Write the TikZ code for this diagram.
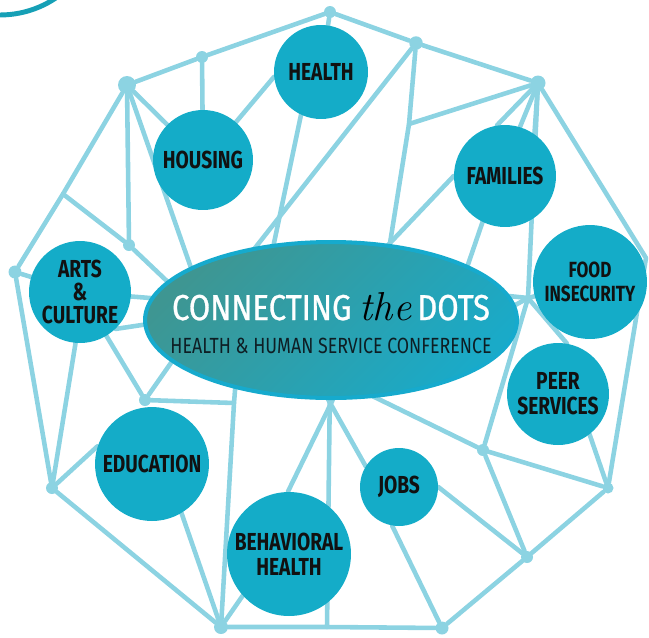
\documentclass[tikz,border=0pt]{standalone}
\usepackage{fontspec}
\newfontfamily\narrowfont[FakeStretch=0.78]{Fira Sans}
\newfontfamily\titlefont[FakeStretch=0.86, FakeBold=0.8]{Fira Sans}
\newfontfamily\subfont[FakeStretch=0.81]{Fira Sans}
\usetikzlibrary{shapes.geometric,backgrounds}
\definecolor{dotblue}{RGB}{20,172,200}
\definecolor{linkblue}{RGB}{140,211,226}
\definecolor{ovalteal}{RGB}{62,150,146}
\definecolor{ovalblue}{RGB}{26,170,200}
\definecolor{ovalrim}{RGB}{22,170,205}
\definecolor{inkblack}{RGB}{17,17,17}
\definecolor{subink}{RGB}{14,30,36}
\definecolor{arcteal}{RGB}{22,160,182}
\tikzset{
  link/.style={draw=linkblue, line width=2.6pt, line cap=round, line join=round},
  topic/.style={circle, fill=dotblue, inner sep=0pt, minimum size=#1, align=center,
    text=inkblack, font=\narrowfont\bfseries\fontsize{14}{14.2}\selectfont},
  joint/.style={circle, fill=linkblue, inner sep=0pt, minimum size=#1},
  oval/.style={ellipse, minimum width=7.44cm, minimum height=3.12cm, draw=ovalrim,
    line width=2.3pt, top color=ovalteal, bottom color=ovalblue, shading angle=45},
}

\begin{document}
\begin{tikzpicture}[x=0.02cm, y=-0.02cm]
\useasboundingbox (0,0) rectangle (649,637);

% corner arc
\begin{scope}
  \clip (0,0) rectangle (649,637);
  \draw[arcteal, line width=2.8pt] (0,-85) circle[radius=2cm];
\end{scope}

% conference oval
\node[oval] (oval) at (331,320) {};
\node[anchor=base, text=white, font=\titlefont\fontsize{20.5}{20.5}\selectfont] (title) at (331,320)
  {CONNECTING {\rmfamily\itshape\color{black}\fontsize{23}{23}\selectfont the}\,DOTS};
\node[anchor=base, text=subink, font=\subfont\fontsize{12.5}{12.5}\selectfont] (subtitle) at (331,353)
  {HEALTH \& HUMAN SERVICE CONFERENCE};

% topics
\node[topic=1.88cm] (health) at (321,72) {HEALTH};
\node[topic=2.0cm] (housing) at (203,160) {HOUSING};
\node[topic=2.04cm] (families) at (505,176) {FAMILIES};
\node[topic=2.28cm, font=\narrowfont\bfseries\fontsize{12.5}{13.6}\selectfont] (food) at (590,282) {FOOD\\INSECURITY};
\node[topic=2.04cm] (peer) at (558,394) {PEER\\SERVICES};
\node[topic=1.56cm] (jobs) at (399,487) {JOBS};
\node[topic=2.48cm] (bh) at (289,554) {BEHAVIORAL\\HEALTH};
\node[topic=2.28cm] (edu) at (152,464) {EDUCATION};
\node[topic=2.04cm, font=\narrowfont\bfseries\fontsize{14}{13.3}\selectfont] (arts) at (80,292) {ARTS\\\&\\CULTURE};

% dots
\node[joint=0.36cm] (A) at (127,85) {};
\node[joint=0.24cm] (B) at (202,57) {};
\node[joint=0.24cm] (C) at (330,12) {};
\node[joint=0.27cm] (D) at (416,43) {};
\node[joint=0.3cm] (E) at (538,83) {};
\node[joint=0.22cm] (G) at (608,488) {};
\node[joint=0.24cm] (H) at (527,557) {};
\node[joint=0.26cm] (I) at (442,628) {};
\node[joint=0.28cm] (J) at (221,627) {};
\node[joint=0.24cm] (K) at (52,488) {};
\node[joint=0.26cm] (L) at (15,272) {};
\node[joint=0.24cm] (M) at (129,245) {};
\node[joint=0.24cm] (O) at (483,450) {};
\node[joint=0.24cm] (P) at (145,400) {};

% bends
\coordinate (F) at (646,258);
\coordinate (N) at (63,194);
\coordinate (Q) at (528,298);
\coordinate (S) at (234,403);
\coordinate (T) at (409,124);
\coordinate (W) at (327,627);

% ends hidden under the oval
\coordinate (oA) at (197,285);
\coordinate (oM) at (190,303);
\coordinate (oH) at (270,262);
\coordinate (oD) at (244,262);
\coordinate (oT) at (387,262);
\coordinate (oF1) at (372,262);
\coordinate (oF2) at (462,282);
\coordinate (oQ1) at (470,292);
\coordinate (oQ2) at (470,330);
\coordinate (oR) at (360,390);
\coordinate (oJ) at (320,385);
\coordinate (oB) at (340,385);
\coordinate (oW) at (330,380);
\coordinate (oS) at (236,378);
\coordinate (oP) at (180,350);
\coordinate (oAr1) at (175,300);
\coordinate (oAr2) at (175,320);

\begin{scope}[on background layer]
% outer ring
\draw[link] (A) -- (B) -- (C) -- (D) -- (E) -- (F) -- (G) -- (H) -- (I) -- (W) -- (J) -- (K) -- (L) -- (N) -- (A);
% top
\draw[link] (B) -- (housing);
\draw[link] (C) -- (health);
\draw[link] (housing.49) -- (health.186);
\draw[link] (A) -- (housing);
\draw[link] (A) -- (M) -- (N);
\draw[link] (A) -- (oA);
\draw[link] (M) -- (oM);
\draw[link] (health.245) -- (oH);
\draw[link] (D) -- (oD);
\draw[link] (D) -- (T) -- (oT);
\draw[link] (E) -- (T);
\draw[link] (E) -- (families.99);
\draw[link] (E) -- (families.73);
\draw[link] (E) -- (families.55);
\draw[link] (E) -- (Q);
\draw[link] (families.180) -- (oF1);
\draw[link] (families.244) -- (oF2);
% right
\draw[link] (Q) -- (oQ1);
\draw[link] (Q) -- (oQ2);
\draw[link] (Q) -- (food);
\draw[link] (Q) -- (peer.80);
\draw[link] (Q) -- (O);
\draw[link] (peer.-52) -- (G);
\draw[link] (O) -- (G);
\draw[link] (O) -- (H);
% bottom
\draw[link] (oR) -- (O);
\draw[link] (jobs.east) -- (H);
\draw[link] (jobs.260) -- (I);
\draw[link] (oJ) -- (jobs.148);
\draw[link] (oB) -- (bh.91);
\draw[link] (oW) -- (W);
\draw[link] (bh.222) -- (J);
\draw[link] (edu.-59) -- (J);
\draw[link] (oS) -- (S) -- (J);
\draw[link] (P) -- (S);
% left
\draw[link] (K) -- (edu.162);
\draw[link] (K) -- (arts.265);
\draw[link] (L) -- (arts);
\draw[link] (arts.-5) -- (oAr1);
\draw[link] (arts.-46) -- (oAr2);
\draw[link] (arts) -- (P);
\draw[link] (P) -- (oP);
\end{scope}
\end{tikzpicture}
\end{document}
